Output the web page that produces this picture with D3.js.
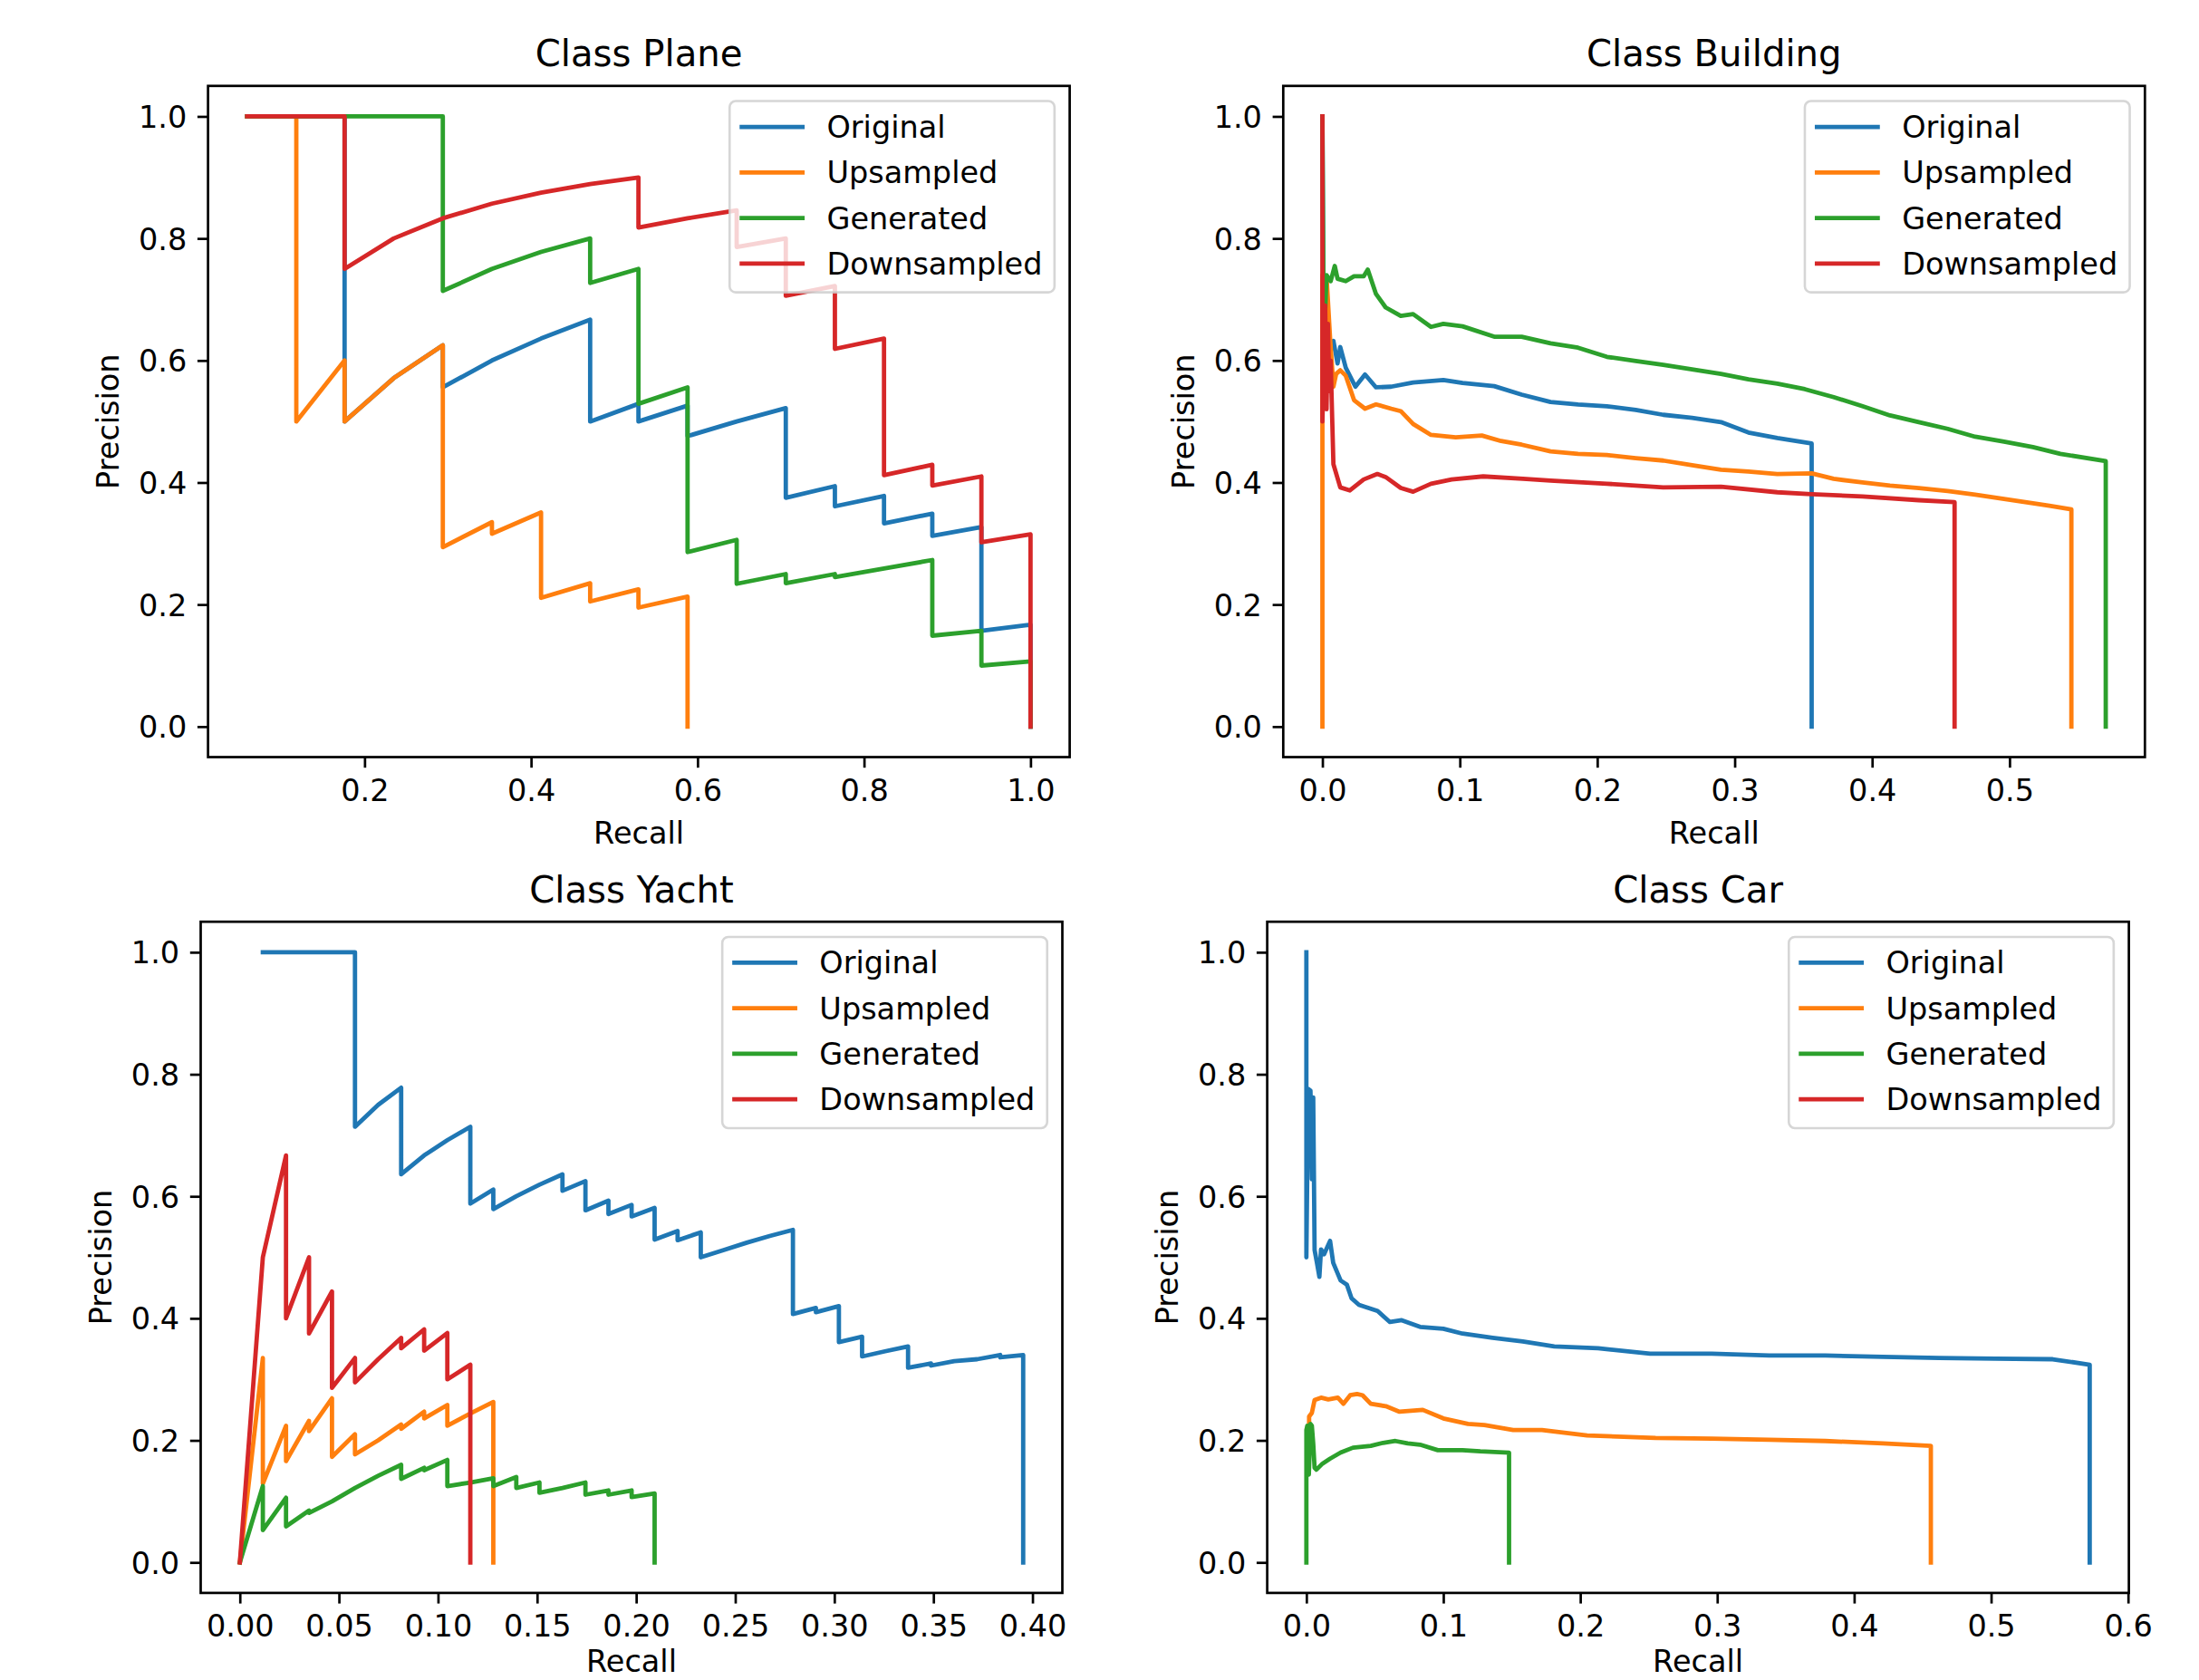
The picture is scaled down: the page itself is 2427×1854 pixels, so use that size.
<!DOCTYPE html>
<html>
<head>
<meta charset="utf-8">
<script src="https://cdn.jsdelivr.net/npm/d3@7"></script>
<style>
body { margin: 0; background: #fff; }
text { font-family: 'DejaVu Sans', sans-serif; fill: #000; }
</style>
</head>
<body>
<div id="chart"></div>
<script>
(function() {

// ---- data ----
const seriesNames = ['Original', 'Upsampled', 'Generated', 'Downsampled']
const colors = ['#1f77b4', '#ff7f0e', '#2ca02c', '#d62728']

const yTicks = [0, 0.2, 0.4, 0.6, 0.8, 1.0]
const planeTicks = [0.2, 0.4, 0.6, 0.8, 1.0]
const buildingTicks = [0, 0.1, 0.2, 0.3, 0.4, 0.5]
const yachtTicks = [0, 0.05, 0.10, 0.15, 0.20, 0.25, 0.30, 0.35, 0.40]
const carTicks = [0, 0.1, 0.2, 0.3, 0.4, 0.5, 0.6]

// [recall, precision]
const planeOriginal = [[0.059,1],[0.118,1],[0.176,1],[0.176,0.75],[0.176,0.6],[0.176,0.5],[0.235,0.571],[0.294,0.625],
  [0.294,0.556],[0.353,0.6],[0.412,0.636],[0.471,0.667],[0.471,0.5],[0.529,0.529],[0.529,0.5],[0.588,0.526],[0.588,0.476],
  [0.647,0.5],[0.706,0.522],[0.706,0.375],[0.765,0.394],[0.765,0.361],[0.824,0.378],[0.824,0.333],[0.882,0.349],[0.882,0.3125],
  [0.941,0.327],[0.941,0.157],[1.0,0.167],[1.0,0]]
const planeUpsampled = [[0.059,1],[0.118,1],[0.118,0.5],[0.176,0.6],[0.176,0.5],[0.235,0.571],[0.294,0.625],[0.294,0.294],
  [0.353,0.335],[0.353,0.316],[0.412,0.351],[0.412,0.211],[0.471,0.235],[0.471,0.205],[0.529,0.225],[0.529,0.195],[0.588,0.213],[0.588,0]]
const planeGenerated = [[0.059,1],[0.118,1],[0.176,1],[0.235,1],[0.294,1],[0.294,0.714],[0.353,0.75],[0.412,0.778],[0.471,0.8],
  [0.471,0.727],[0.529,0.75],[0.529,0.529],[0.588,0.556],[0.588,0.286],[0.647,0.306],[0.647,0.234],[0.706,0.25],[0.706,0.235],
  [0.765,0.25],[0.765,0.245],[0.824,0.259],[0.882,0.273],[0.882,0.149],[0.941,0.157],[0.941,0.1],[1.0,0.107],[1.0,0]]
const planeDownsampled = [[0.059,1],[0.118,1],[0.176,1],[0.176,0.75],[0.235,0.8],[0.294,0.833],[0.353,0.857],[0.412,0.875],
  [0.471,0.889],[0.529,0.9],[0.529,0.818],[0.588,0.833],[0.647,0.846],[0.647,0.786],[0.706,0.8],[0.706,0.706],[0.765,0.722],
  [0.765,0.619],[0.824,0.636],[0.824,0.412],[0.882,0.429],[0.882,0.395],[0.941,0.41],[0.941,0.302],[1.0,0.315],[1.0,0]]

const buildingOriginal = [[0,1],[0.001,0.55],[0.003,0.6],[0.005,0.625],[0.008,0.632],[0.011,0.595],[0.013,0.622],[0.017,0.588],
  [0.024,0.557],[0.031,0.577],[0.039,0.556],[0.05,0.557],[0.066,0.564],[0.088,0.568],[0.102,0.563],[0.125,0.558],[0.145,0.544],
  [0.166,0.532],[0.186,0.528],[0.207,0.525],[0.228,0.519],[0.248,0.511],[0.269,0.506],[0.29,0.499],[0.31,0.482],[0.331,0.473],
  [0.356,0.464],[0.356,0]]
const buildingUpsampled = [[0,0],[0,0.74],[0.003,0.738],[0.0056,0.636],[0.008,0.557],[0.01,0.578],[0.013,0.584],[0.017,0.575],
  [0.023,0.535],[0.031,0.521],[0.039,0.528],[0.05,0.521],[0.057,0.517],[0.066,0.496],[0.079,0.478],[0.097,0.474],[0.116,0.477],
  [0.13,0.468],[0.145,0.462],[0.166,0.451],[0.186,0.447],[0.207,0.445],[0.228,0.44],[0.248,0.436],[0.27,0.428],[0.29,0.421],
  [0.31,0.418],[0.331,0.414],[0.356,0.415],[0.372,0.406],[0.393,0.4],[0.413,0.395],[0.434,0.391],[0.455,0.386],[0.475,0.38],
  [0.496,0.373],[0.517,0.366],[0.529,0.362],[0.545,0.356],[0.545,0]]
const buildingGenerated = [[0,1],[0.001,0.62],[0.003,0.74],[0.006,0.73],[0.009,0.755],[0.011,0.734],[0.017,0.73],[0.023,0.738],
  [0.03,0.738],[0.033,0.749],[0.039,0.709],[0.046,0.687],[0.057,0.673],[0.066,0.676],[0.079,0.655],[0.088,0.66],[0.102,0.656],
  [0.125,0.639],[0.145,0.639],[0.166,0.628],[0.186,0.621],[0.207,0.606],[0.228,0.599],[0.248,0.593],[0.27,0.585],[0.29,0.578],
  [0.31,0.569],[0.331,0.562],[0.351,0.553],[0.372,0.54],[0.393,0.525],[0.413,0.51],[0.434,0.499],[0.455,0.488],[0.475,0.475],
  [0.496,0.467],[0.517,0.458],[0.537,0.447],[0.57,0.435],[0.57,0]]
const buildingDownsampled = [[0,1],[0,0.5],[0.002,0.69],[0.003,0.52],[0.004,0.66],[0.005,0.55],[0.006,0.6],[0.008,0.43],
  [0.013,0.392],[0.02,0.387],[0.03,0.405],[0.04,0.414],[0.046,0.409],[0.057,0.391],[0.066,0.385],[0.079,0.398],[0.094,0.405],
  [0.117,0.41],[0.146,0.406],[0.166,0.403],[0.207,0.398],[0.248,0.392],[0.29,0.393],[0.331,0.384],[0.356,0.381],[0.393,0.377],
  [0.434,0.371],[0.46,0.368],[0.46,0]]

const yachtOriginal = [[0.0116,1],[0.0233,1],[0.0349,1],[0.0465,1],[0.0581,1],[0.0581,0.714],[0.0698,0.75],[0.0814,0.778],
  [0.0814,0.636],[0.093,0.667],[0.1047,0.692],[0.1163,0.714],[0.1163,0.588],[0.1279,0.611],[0.1279,0.579],[0.1395,0.6],
  [0.1512,0.619],[0.1628,0.636],[0.1628,0.609],[0.1744,0.625],[0.1744,0.577],[0.186,0.593],[0.186,0.571],[0.1977,0.586],
  [0.1977,0.567],[0.2093,0.581],[0.2093,0.529],[0.2209,0.543],[0.2209,0.528],[0.2326,0.541],[0.2326,0.5],[0.2442,0.512],
  [0.2558,0.524],[0.2674,0.535],[0.2791,0.545],[0.2791,0.407],[0.2907,0.417],[0.2907,0.41],[0.3023,0.42],[0.3023,0.361],
  [0.314,0.37],[0.314,0.3375],[0.3256,0.346],[0.3372,0.354],[0.3372,0.319],[0.3488,0.326],[0.3488,0.3226],[0.3605,0.33],
  [0.3721,0.333],[0.3837,0.34],[0.3837,0.336],[0.3953,0.34],[0.3953,0]]
const yachtUpsampled = [[0,0],[0.0116,0.335],[0.0116,0.129],[0.0233,0.224],[0.0233,0.166],[0.0349,0.232],[0.0349,0.215],
  [0.0465,0.269],[0.0465,0.173],[0.0581,0.21],[0.0581,0.177],[0.0698,0.2],[0.0814,0.226],[0.0814,0.219],[0.093,0.247],
  [0.093,0.236],[0.1047,0.258],[0.1047,0.224],[0.1163,0.244],[0.1279,0.263],[0.1279,0]]
const yachtGenerated = [[0,0],[0.0116,0.125],[0.0116,0.053],[0.0233,0.106],[0.0233,0.059],[0.0349,0.085],[0.0349,0.081],
  [0.0465,0.1],[0.0581,0.122],[0.0698,0.142],[0.0814,0.16],[0.0814,0.137],[0.093,0.155],[0.093,0.151],[0.1047,0.168],
  [0.1047,0.125],[0.1163,0.131],[0.1279,0.138],[0.1279,0.125],[0.1395,0.14],[0.1395,0.122],[0.1512,0.131],[0.1512,0.114],
  [0.1628,0.122],[0.1744,0.131],[0.1744,0.111],[0.186,0.118],[0.186,0.111],[0.1977,0.118],[0.1977,0.107],[0.2093,0.113],[0.2093,0]]
const yachtDownsampled = [[0,0],[0.0116,0.5],[0.0233,0.667],[0.0233,0.4],[0.0349,0.5],[0.0349,0.375],[0.0465,0.444],
  [0.0465,0.286],[0.0581,0.335],[0.0581,0.295],[0.0698,0.333],[0.0814,0.368],[0.0814,0.351],[0.093,0.382],[0.093,0.347],
  [0.1047,0.376],[0.1047,0.3],[0.1163,0.324],[0.1163,0]]

const carOriginal = [[0,1],[0,0.5],[0.0013,0.776],[0.003,0.773],[0.004,0.628],[0.005,0.762],[0.006,0.512],[0.0078,0.49],
  [0.0095,0.468],[0.0107,0.513],[0.0129,0.505],[0.0173,0.527],[0.0196,0.491],[0.025,0.462],[0.0296,0.455],[0.033,0.433],
  [0.0384,0.422],[0.052,0.412],[0.061,0.394],[0.0696,0.397],[0.083,0.386],[0.1,0.383],[0.114,0.375],[0.136,0.368],[0.158,0.362],
  [0.181,0.354],[0.213,0.351],[0.251,0.342],[0.296,0.342],[0.338,0.339],[0.379,0.339],[0.421,0.337],[0.462,0.335],[0.503,0.334],
  [0.545,0.333],[0.572,0.324],[0.572,0]]
const carUpsampled = [[0.002,0.22],[0.002,0.239],[0.004,0.245],[0.006,0.266],[0.0107,0.27],[0.016,0.267],[0.023,0.27],
  [0.027,0.26],[0.032,0.274],[0.037,0.276],[0.041,0.274],[0.047,0.26],[0.058,0.256],[0.068,0.247],[0.085,0.25],[0.1,0.236],
  [0.118,0.227],[0.13,0.225],[0.151,0.217],[0.172,0.217],[0.205,0.208],[0.255,0.204],[0.296,0.203],[0.338,0.201],[0.379,0.199],
  [0.421,0.195],[0.456,0.191],[0.456,0]]
const carGenerated = [[0,0],[0,0.217],[0.0007,0.224],[0.0018,0.144],[0.003,0.227],[0.004,0.224],[0.005,0.195],[0.006,0.155],
  [0.0073,0.152],[0.0118,0.162],[0.0173,0.17],[0.025,0.18],[0.034,0.188],[0.047,0.191],[0.056,0.196],[0.065,0.199],[0.074,0.195],
  [0.083,0.193],[0.096,0.184],[0.114,0.184],[0.127,0.182],[0.148,0.18],[0.148,0]]
const carDownsampled = []

// ---- layout ----
const width = 2427,
      height = 1854
const boxW = 951,
      boxH = 740.7
const fs = 33.5          // 10pt at this figure's dpi
const lw = 4.8           // line width
const spineW = 2.7

const panels = [
  { title: 'Class Plane', left: 229.6, top: 94.8, ticks: planeTicks, fmt: '.1f',
    series: [planeOriginal, planeUpsampled, planeGenerated, planeDownsampled] },
  { title: 'Class Building', left: 1416.3, top: 94.8, ticks: buildingTicks, fmt: '.1f',
    series: [buildingOriginal, buildingUpsampled, buildingGenerated, buildingDownsampled] },
  { title: 'Class Yacht', left: 221.5, top: 1017.2, ticks: yachtTicks, fmt: '.2f',
    series: [yachtOriginal, yachtUpsampled, yachtGenerated, yachtDownsampled] },
  { title: 'Class Car', left: 1398.6, top: 1017.2, ticks: carTicks, fmt: '.1f',
    series: [carOriginal, carUpsampled, carGenerated, carDownsampled] }
]

const svg = d3.select('#chart')
  .append('svg')
  .attr('width', width)
  .attr('height', height)
  .style('display', 'block')

svg.append('rect').attr('width', width).attr('height', height).attr('fill', '#fff')

panels.forEach(drawPanel)

function drawPanel(p) {
  const allX = p.series.flat().map(d => d[0])
  const ext = d3.extent(allX)
  const pad = (ext[1] - ext[0]) * 0.05

  const x = d3.scaleLinear().domain([ext[0] - pad, ext[1] + pad]).range([0, boxW])
  const y = d3.scaleLinear().domain([-0.05, 1.05]).range([boxH, 0])

  const g = svg.append('g').attr('transform', 'translate(' + p.left + ',' + p.top + ')')

  const line = d3.line().x(d => x(d[0])).y(d => y(d[1]))

  p.series.forEach(function(s, i) {
    if (!s.length) return
    g.append('path')
      .datum(s)
      .attr('d', line)
      .attr('fill', 'none')
      .attr('stroke', colors[i])
      .attr('stroke-width', lw)
      .attr('stroke-linejoin', 'round')
      .attr('stroke-linecap', 'square')
  })

  // axes
  const xAxis = g.append('g')
    .attr('transform', 'translate(0,' + boxH + ')')
    .call(d3.axisBottom(x).tickValues(p.ticks).tickFormat(d3.format(p.fmt))
      .tickSize(11.7).tickPadding(11.7).tickSizeOuter(0))
  const yAxis = g.append('g')
    .call(d3.axisLeft(y).tickValues(yTicks).tickFormat(d3.format('.1f'))
      .tickSize(11.7).tickPadding(11.7).tickSizeOuter(0))

  ;[xAxis, yAxis].forEach(function(a) {
    a.attr('font-family', null).attr('font-size', null)
    a.select('.domain').remove()
    a.selectAll('.tick line').attr('stroke', '#000').attr('stroke-width', spineW)
    a.selectAll('.tick text').style('font-size', fs + 'px').attr('fill', '#000')
  })
  xAxis.selectAll('.tick text').attr('dy', '0.74em')
  yAxis.selectAll('.tick text').attr('dy', '0.36em')

  // spines
  g.append('rect')
    .attr('width', boxW)
    .attr('height', boxH)
    .attr('fill', 'none')
    .attr('stroke', '#000')
    .attr('stroke-width', spineW)

  // labels
  g.append('text')
    .attr('x', boxW / 2)
    .attr('y', -21.5)
    .attr('text-anchor', 'middle')
    .style('font-size', '40.2px')
    .text(p.title)

  // keep the bottom row's label inside the page
  const xlabelY = Math.min(boxH + 96, height - p.top - 9)
  g.append('text')
    .attr('x', boxW / 2)
    .attr('y', xlabelY)
    .attr('text-anchor', 'middle')
    .style('font-size', fs + 'px')
    .text('Recall')

  g.append('text')
    .attr('transform', 'translate(-98.4,' + (boxH / 2) + ') rotate(-90)')
    .attr('text-anchor', 'middle')
    .style('font-size', fs + 'px')
    .text('Precision')

  // legend, upper right
  const lg = g.append('g')
  const frame = lg.append('rect')
  const items = lg.selectAll('.item')
    .data(seriesNames)
    .enter()
    .append('g')
    .attr('class', 'item')

  const labels = items.append('text')
    .style('font-size', fs + 'px')
    .text(d => d)

  let textW = 0
  labels.each(function() { textW = Math.max(textW, this.getComputedTextLength()) })

  const bp = 0.4 * fs, hl = 2 * fs, htp = 0.8 * fs, bap = 0.5 * fs
  const lgW = 2 * bp + hl + htp + textW
  const lgH = 2 * bp + 4 * fs + 3 * 0.5 * fs
  const lgX = boxW - bap - lgW
  const lgY = bap

  frame
    .attr('x', lgX)
    .attr('y', lgY)
    .attr('width', lgW)
    .attr('height', lgH)
    .attr('rx', 0.2 * fs)
    .attr('fill', '#fff')
    .attr('fill-opacity', 0.8)
    .attr('stroke', '#cccccc')
    .attr('stroke-opacity', 0.8)
    .attr('stroke-width', 2.6)

  items.attr('transform', (d, i) => 'translate(' + (lgX + bp) + ',' + (lgY + 28.5 + i * 50.25) + ')')
  items.append('line')
    .attr('x1', 0)
    .attr('x2', hl)
    .attr('stroke', (d, i) => colors[i])
    .attr('stroke-width', lw)
    .attr('stroke-linecap', 'square')
  labels
    .attr('x', hl + htp)
    .attr('y', 12)
  labels.raise()
}

})()
</script>
</body>
</html>
